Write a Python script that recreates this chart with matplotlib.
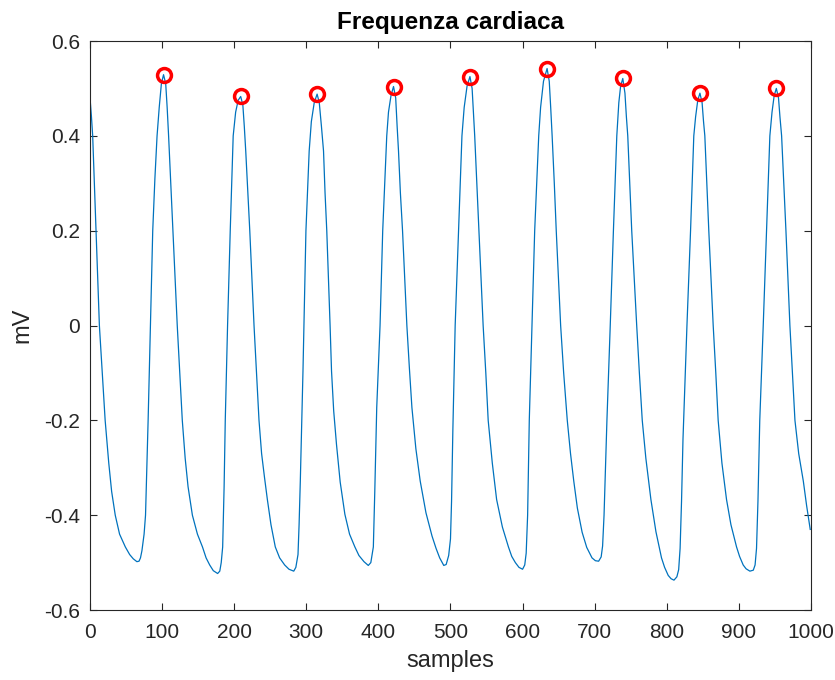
import numpy as np
import matplotlib
matplotlib.use('Agg')
import matplotlib.pyplot as plt

# ECG trace, points (sample index, mV)
t_pts = [0, 2, 3.7, 6, 8.3, 10.5, 13, 17, 21, 26, 30, 35, 41, 49, 55, 60, 65, 68, 70,
         72, 75, 77, 80.6, 83.8, 87, 90, 93, 96, 99, 102,
         105, 107, 109, 112, 115, 118, 121, 124.5, 128, 132, 136, 142, 149, 156, 161, 166, 171, 177,
         180, 182, 184, 186, 187.6, 190.8, 194.5, 198.6, 202, 205.5, 209,
         212, 214, 216, 219, 221.6, 224.5, 227.5, 231, 234.4, 238, 242, 246, 251, 257, 263, 270, 276, 282.6,
         285.5, 288.5, 290, 291.7, 295.4, 299.5, 304, 307, 311, 315,
         318, 321, 323.9, 326, 328.4, 333, 335, 338, 341.9, 347, 353.5, 360, 367.4, 373, 380, 386,
         389.5, 393, 395, 397.7, 402.3, 406, 411.6, 414, 417.5, 421,
         424, 426, 427.9, 430.5, 433.5, 436.5, 439.5, 443, 446.5, 452, 458, 466, 474.4, 480, 485, 490.7,
         494, 497.5, 500, 501.5, 503.3, 506.5, 511.2, 515.9, 519, 523, 527,
         530, 531.8, 533.6, 536.5, 539.3, 542.3, 545.3, 549, 552.3, 558, 564, 572, 580.4, 585, 590, 595, 600,
         603, 605, 607, 609.3, 613, 616.8, 622.4, 625, 629, 634,
         637, 639, 641, 644, 646.7, 649.7, 652.8, 657, 662, 666.5, 671, 676, 682.6, 689, 696.3, 701, 705.5,
         709, 711, 713, 715, 717, 721.6, 726, 730.7, 733.5, 736, 739,
         742, 744, 745.9, 748.6, 751.4, 754.8, 758.3, 762, 766, 771, 778, 785, 792.7, 797, 802, 806, 810,
         814, 816.5, 818.5, 820.5, 822.5, 828, 833, 837.5, 840, 843, 846,
         849, 851, 852.8, 855.5, 858.3, 861.3, 864.4, 868, 871.3, 876.5, 882.9, 889, 896.8, 901, 906, 910, 915.3,
         920, 922.5, 924.5, 926.5, 929, 933.8, 938.4, 943, 946, 949, 952,
         955, 957, 959.3, 962.3, 965.3, 968, 970.8, 974.3, 977.8, 983, 989.4, 994, 999]
v_pts = [0.48, 0.44, 0.40, 0.30, 0.20, 0.10, 0.0, -0.10, -0.20, -0.29, -0.35, -0.40, -0.44, -0.467, -0.483, -0.492, -0.498, -0.497, -0.49,
         -0.475, -0.44, -0.40, -0.20, 0.0, 0.20, 0.31, 0.40, 0.46, 0.51, 0.529,
         0.51, 0.46, 0.40, 0.30, 0.20, 0.10, 0.0, -0.10, -0.20, -0.28, -0.34, -0.40, -0.44, -0.467, -0.49, -0.505, -0.517, -0.523,
         -0.518, -0.50, -0.467, -0.34, -0.20, 0.0, 0.20, 0.40, 0.45, 0.475, 0.483,
         0.465, 0.42, 0.368, 0.28, 0.20, 0.10, 0.0, -0.10, -0.20, -0.27, -0.32, -0.367, -0.42, -0.467, -0.49, -0.505, -0.514, -0.518,
         -0.51, -0.483, -0.42, -0.328, -0.096, 0.20, 0.368, 0.43, 0.47, 0.488,
         0.47, 0.42, 0.368, 0.28, 0.20, 0.0, -0.096, -0.18, -0.251, -0.33, -0.398, -0.44, -0.467, -0.485, -0.498, -0.506,
         -0.50, -0.467, -0.35, -0.173, 0.0, 0.20, 0.40, 0.45, 0.485, 0.504,
         0.48, 0.42, 0.368, 0.28, 0.20, 0.10, 0.0, -0.09, -0.173, -0.26, -0.328, -0.395, -0.444, -0.47, -0.49, -0.506,
         -0.504, -0.485, -0.45, -0.37, -0.22, 0.0, 0.20, 0.40, 0.46, 0.505, 0.525,
         0.50, 0.45, 0.40, 0.30, 0.20, 0.10, 0.0, -0.10, -0.20, -0.29, -0.367, -0.425, -0.467, -0.487, -0.50, -0.51, -0.514,
         -0.505, -0.48, -0.40, -0.20, 0.0, 0.20, 0.40, 0.46, 0.515, 0.542,
         0.515, 0.46, 0.40, 0.30, 0.20, 0.10, 0.0, -0.10, -0.20, -0.27, -0.328, -0.385, -0.436, -0.468, -0.49, -0.496, -0.497,
         -0.488, -0.465, -0.40, -0.30, -0.20, 0.0, 0.20, 0.40, 0.47, 0.505, 0.521,
         0.49, 0.44, 0.40, 0.30, 0.20, 0.10, 0.0, -0.10, -0.20, -0.28, -0.367, -0.435, -0.49, -0.51, -0.527, -0.534, -0.537,
         -0.53, -0.515, -0.47, -0.37, -0.24, 0.0, 0.20, 0.40, 0.44, 0.475, 0.49,
         0.47, 0.43, 0.40, 0.30, 0.20, 0.10, 0.0, -0.10, -0.20, -0.29, -0.367, -0.42, -0.467, -0.487, -0.505, -0.513, -0.518,
         -0.516, -0.505, -0.47, -0.37, -0.20, 0.0, 0.20, 0.40, 0.45, 0.485, 0.50,
         0.48, 0.44, 0.40, 0.30, 0.20, 0.10, 0.0, -0.10, -0.20, -0.27, -0.328, -0.38, -0.43]

# detected R peaks
peak_t = [102, 209, 315, 421, 527, 634, 739, 846, 952]
peak_v = [0.529, 0.483, 0.488, 0.504, 0.525, 0.542, 0.521, 0.49, 0.50]

plt.rcParams['font.family'] = ['Liberation Sans', 'DejaVu Sans']
grey = '#262626'

fig = plt.figure(figsize=(8.35, 6.8), dpi=100)
ax = fig.add_axes([0.1078, 0.1029, 0.8634, 0.8368])

ax.plot(t_pts, v_pts, color='#0072BD', lw=0.9)
ax.plot(peak_t, peak_v, 'o', ms=10, mfc='none', mec='red', mew=2.5)

ax.set_xlim(0, 1000)
ax.set_ylim(-0.6, 0.6)
ax.set_xticks(np.arange(0, 1001, 100))
ax.set_yticks(np.arange(-0.6, 0.61, 0.2))
ax.set_yticklabels(['-0.6', '-0.4', '-0.2', '0', '0.2', '0.4', '0.6'])
ax.tick_params(direction='in', top=True, right=True, length=5, width=0.8,
               colors=grey, labelsize=15)
ax.tick_params(axis='x', pad=9)
ax.tick_params(axis='y', pad=7)
for s in ax.spines.values():
    s.set_color(grey)
    s.set_linewidth(0.8)

ax.set_title('Frequenza cardiaca', fontsize=17.5, fontweight='bold', color='black', pad=9)
ax.set_xlabel('samples', fontsize=17, color=grey, labelpad=6)
ax.set_ylabel('mV', fontsize=17, color=grey, labelpad=8)

fig.savefig('out.png', dpi=100)
